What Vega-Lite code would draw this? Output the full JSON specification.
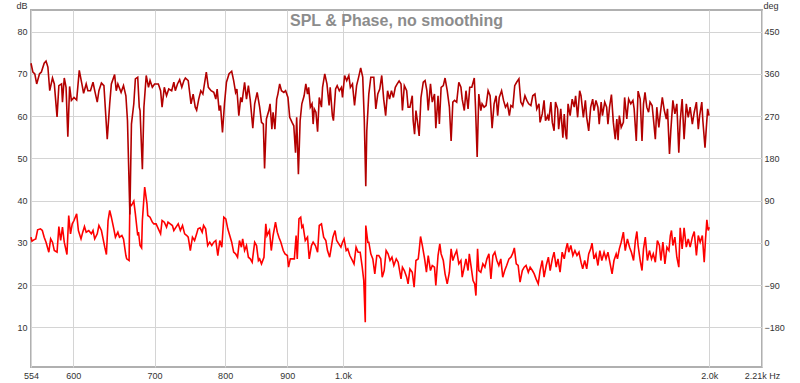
{
  "$schema": "https://vega.github.io/schema/vega-lite/v6.json",
  "width": 731,
  "height": 357,
  "autosize": {"type": "none"},
  "padding": {"left": 31, "top": 10, "right": 38, "bottom": 16},
  "background": "white",
  "title": {"text": "SPL & Phase, no smoothing", "anchor": "middle", "orient": "top", "offset": -41, "font": "Liberation Sans", "fontSize": 16, "fontWeight": "bold", "color": "#8c8c8c", "baseline": "alphabetic"},
  "config": {
    "axis": {"labelFont": "Liberation Sans", "labelFontSize": 9, "labelColor": "#333333", "titleFont": "Liberation Sans", "titleFontSize": 9, "titleFontWeight": "normal", "titleColor": "#333333", "gridColor": "#d4d4d4", "gridWidth": 1, "domain": false, "ticks": false},
    "view": {"stroke": "#b0b0b0", "strokeWidth": 2}
  },
  "layer": [
    {
      "data": {"values": [
        {"f":554,"deg":12.1},{"f":555,"deg":3.6},{"f":557,"deg":6.4},{"f":559,"deg":8.5},{"f":561,"deg":27.7},{"f":564,"deg":29.9},{"f":566,"deg":26.3},{"f":568,"deg":12.1},{"f":570,"deg":1.4},{"f":573,"deg":-19.9},{"f":575,"deg":8.5},{"f":577,"deg":1.4},{"f":579,"deg":-16.4},{"f":582,"deg":-19.9},{"f":584,"deg":34.8},{"f":586,"deg":5},{"f":588,"deg":33.4},{"f":590,"deg":1.4},{"f":593,"deg":-24.9},{"f":595,"deg":58.3},{"f":597,"deg":19.2},{"f":599,"deg":40.5},{"f":601,"deg":47.6},{"f":604,"deg":61.9},{"f":606,"deg":26.3},{"f":609,"deg":8.5},{"f":611,"deg":22.8},{"f":613,"deg":34.8},{"f":615,"deg":22.8},{"f":618,"deg":26.3},{"f":621,"deg":19.2},{"f":623,"deg":26.3},{"f":625,"deg":8.5},{"f":628,"deg":19.2},{"f":630,"deg":37},{"f":633,"deg":26.3},{"f":635,"deg":8.5},{"f":637,"deg":-9.2},{"f":639,"deg":-24.9},{"f":641,"deg":47.6},{"f":643,"deg":69},{"f":645,"deg":54.7},{"f":648,"deg":29.9},{"f":650,"deg":12.1},{"f":653,"deg":22.8},{"f":655,"deg":12.1},{"f":658,"deg":15.6},{"f":660,"deg":8.5},{"f":663,"deg":-27},{"f":664,"deg":-34.1},{"f":667,"deg":-37.7},{"f":668,"deg":83.2},{"f":670,"deg":79.6},{"f":673,"deg":88.9},{"f":675,"deg":61.9},{"f":678,"deg":15.6},{"f":679,"deg":22.8},{"f":681,"deg":-5.7},{"f":683,"deg":-10.7},{"f":684,"deg":47.6},{"f":687,"deg":118.7},{"f":690,"deg":83.2},{"f":691,"deg":58.3},{"f":694,"deg":54.7},{"f":697,"deg":44.1},{"f":699,"deg":40.5},{"f":702,"deg":40.5},{"f":705,"deg":29.9},{"f":708,"deg":19.2},{"f":710,"deg":47.6},{"f":713,"deg":44.1},{"f":716,"deg":33.4},{"f":718,"deg":44.1},{"f":721,"deg":40.5},{"f":724,"deg":37},{"f":726,"deg":26.3},{"f":729,"deg":33.4},{"f":732,"deg":40.5},{"f":735,"deg":26.3},{"f":738,"deg":37},{"f":741,"deg":19.2},{"f":744,"deg":15.6},{"f":746,"deg":12.1},{"f":749,"deg":-16.4},{"f":752,"deg":12.1},{"f":755,"deg":5},{"f":758,"deg":19.2},{"f":760,"deg":29.9},{"f":763,"deg":32},{"f":766,"deg":22.8},{"f":768,"deg":37},{"f":771,"deg":29.9},{"f":774,"deg":-5.7},{"f":777,"deg":1.4},{"f":780,"deg":-5.7},{"f":783,"deg":1.4},{"f":786,"deg":5},{"f":789,"deg":-27},{"f":792,"deg":5},{"f":795,"deg":-9.2},{"f":798,"deg":54.7},{"f":801,"deg":51.2},{"f":804,"deg":29.9},{"f":807,"deg":15.6},{"f":810,"deg":1.4},{"f":813,"deg":-19.9},{"f":816,"deg":-23.5},{"f":819,"deg":-30.6},{"f":822,"deg":5},{"f":825,"deg":-9.2},{"f":827,"deg":8.5},{"f":830,"deg":-16.4},{"f":833,"deg":-5.7},{"f":836,"deg":-30.6},{"f":839,"deg":-34.1},{"f":842,"deg":-41.2},{"f":846,"deg":1.4},{"f":849,"deg":-5.7},{"f":852,"deg":-37.7},{"f":854,"deg":-34.1},{"f":857,"deg":-44.8},{"f":861,"deg":-30.6},{"f":864,"deg":40.5},{"f":866,"deg":15.6},{"f":870,"deg":26.3},{"f":873,"deg":-16.4},{"f":876,"deg":15.6},{"f":880,"deg":44.1},{"f":883,"deg":22.8},{"f":886,"deg":10.7},{"f":889,"deg":1.4},{"f":893,"deg":-16.4},{"f":896,"deg":-23.5},{"f":900,"deg":-27},{"f":902,"deg":-51.9},{"f":905,"deg":-34.1},{"f":909,"deg":-34.1},{"f":912,"deg":-34.1},{"f":915,"deg":15.6},{"f":917,"deg":-34.1},{"f":920,"deg":51.2},{"f":923,"deg":54.7},{"f":925,"deg":33.4},{"f":927,"deg":37},{"f":931,"deg":5},{"f":935,"deg":12.1},{"f":938,"deg":-34.1},{"f":942,"deg":-5.7},{"f":945,"deg":1.4},{"f":949,"deg":-5.7},{"f":953,"deg":-19.9},{"f":956,"deg":37},{"f":960,"deg":40.5},{"f":964,"deg":12.1},{"f":968,"deg":5},{"f":971,"deg":-16.4},{"f":975,"deg":-30.6},{"f":977,"deg":-16.4},{"f":981,"deg":12.1},{"f":985,"deg":26.3},{"f":988,"deg":5},{"f":992,"deg":-2.1},{"f":996,"deg":-9.2},{"f":999,"deg":1.4},{"f":1002,"deg":8.5},{"f":1006,"deg":-16.4},{"f":1009,"deg":-12.8},{"f":1013,"deg":-27},{"f":1018,"deg":-37.7},{"f":1021,"deg":-44.8},{"f":1025,"deg":-9.2},{"f":1029,"deg":-19.9},{"f":1033,"deg":-19.9},{"f":1037,"deg":-51.9},{"f":1040,"deg":-80.3},{"f":1043,"deg":-169.2},{"f":1044,"deg":37},{"f":1048,"deg":1.4},{"f":1050,"deg":1.4},{"f":1054,"deg":-23.5},{"f":1058,"deg":-34.1},{"f":1062,"deg":-66.1},{"f":1066,"deg":-27},{"f":1070,"deg":-27},{"f":1074,"deg":-34.1},{"f":1077,"deg":-73.2},{"f":1081,"deg":-59},{"f":1085,"deg":-16.4},{"f":1089,"deg":-23.5},{"f":1093,"deg":-37.7},{"f":1097,"deg":-30.6},{"f":1101,"deg":-48.3},{"f":1106,"deg":-34.1},{"f":1110,"deg":-41.2},
        {"f":1116,"deg":-76.8},{"f":1119,"deg":-51.9},{"f":1123,"deg":-59},{"f":1128,"deg":-73.2},{"f":1131,"deg":-87.4},{"f":1135,"deg":-55.5},{"f":1140,"deg":-62.6},{"f":1144,"deg":-94.6},{"f":1148,"deg":-37.7},{"f":1153,"deg":-34.1},{"f":1155,"deg":-16.4},{"f":1158,"deg":13.5},{"f":1162,"deg":-5.7},{"f":1167,"deg":-34.1},{"f":1171,"deg":-62.6},{"f":1175,"deg":-27},{"f":1180,"deg":-59},{"f":1184,"deg":-48.3},{"f":1189,"deg":-51.9},{"f":1192,"deg":-91},{"f":1197,"deg":-27},{"f":1201,"deg":-2.1},{"f":1204,"deg":-23.5},{"f":1209,"deg":-37.7},{"f":1213,"deg":-66.1},{"f":1218,"deg":-87.4},{"f":1223,"deg":-62.6},{"f":1227,"deg":-12.8},{"f":1231,"deg":-37.7},{"f":1235,"deg":-27},{"f":1240,"deg":-16.4},{"f":1245,"deg":-44.8},{"f":1250,"deg":-37.7},{"f":1253,"deg":-73.2},{"f":1258,"deg":-51.9},{"f":1262,"deg":-34.1},{"f":1267,"deg":-59},{"f":1270,"deg":-23.5},{"f":1274,"deg":-48.3},{"f":1279,"deg":-80.3},{"f":1283,"deg":-87.4},{"f":1286,"deg":-112.3},{"f":1290,"deg":-12.8},{"f":1293,"deg":-59},{"f":1298,"deg":-62.6},{"f":1303,"deg":-44.8},{"f":1308,"deg":-51.9},{"f":1313,"deg":-34.1},{"f":1318,"deg":-23.5},{"f":1323,"deg":-76.8},{"f":1328,"deg":-27},{"f":1333,"deg":-19.9},{"f":1338,"deg":-37.7},{"f":1343,"deg":-48.3},{"f":1348,"deg":-34.1},{"f":1353,"deg":-73.2},{"f":1358,"deg":-59},{"f":1363,"deg":-48.3},{"f":1369,"deg":-34.1},{"f":1374,"deg":-30.6},{"f":1379,"deg":-22},{"f":1383,"deg":-10.7},{"f":1388,"deg":-44.8},{"f":1393,"deg":-48.3},{"f":1398,"deg":-83.9},{"f":1404,"deg":-59},{"f":1409,"deg":-51.9},{"f":1414,"deg":-48.3},{"f":1420,"deg":-62.6},{"f":1425,"deg":-51.9},{"f":1431,"deg":-59},{"f":1436,"deg":-66.1},{"f":1441,"deg":-76.8},{"f":1447,"deg":-87.4},{"f":1452,"deg":-59},{"f":1458,"deg":-37.7},{"f":1463,"deg":-73.2},{"f":1469,"deg":-48.3},{"f":1475,"deg":-30.6},{"f":1480,"deg":-59},{"f":1486,"deg":-34.1},{"f":1491,"deg":-19.9},{"f":1497,"deg":-51.9},{"f":1502,"deg":-34.1},{"f":1508,"deg":-62.6},{"f":1514,"deg":-19.9},{"f":1520,"deg":-34.1},{"f":1525,"deg":-12.8},{"f":1529,"deg":-0.7},{"f":1533,"deg":-19.9},{"f":1539,"deg":-5.7},{"f":1545,"deg":-27},{"f":1551,"deg":-16.4},{"f":1557,"deg":-27},{"f":1563,"deg":-19.9},{"f":1569,"deg":-41.2},
        {"f":1574,"deg":-55.5},{"f":1580,"deg":-37.7},{"f":1586,"deg":-55.5},{"f":1592,"deg":-23.5},{"f":1598,"deg":-12.8},{"f":1602,"deg":-0.7},{"f":1608,"deg":-34.1},{"f":1614,"deg":-23.5},{"f":1620,"deg":-48.3},{"f":1626,"deg":-16.4},{"f":1632,"deg":-37.7},{"f":1639,"deg":-19.9},{"f":1645,"deg":-34.1},{"f":1651,"deg":-19.9},{"f":1658,"deg":-44.8},{"f":1664,"deg":-66.1},{"f":1670,"deg":-37.7},{"f":1677,"deg":-23.5},{"f":1681,"deg":-34.1},{"f":1687,"deg":-12.8},{"f":1693,"deg":1.4},{"f":1700,"deg":22.8},{"f":1706,"deg":-16.4},{"f":1713,"deg":8.5},{"f":1720,"deg":-9.2},{"f":1726,"deg":-19.9},{"f":1733,"deg":-37.7},{"f":1739,"deg":5},{"f":1744,"deg":24.2},{"f":1748,"deg":-5.7},{"f":1755,"deg":-37.7},{"f":1761,"deg":-59},{"f":1766,"deg":-12.8},{"f":1772,"deg":12.1},{"f":1779,"deg":-37.7},{"f":1786,"deg":-16.4},{"f":1793,"deg":-34.1},{"f":1799,"deg":-23.5},{"f":1806,"deg":-41.2},{"f":1813,"deg":5},{"f":1820,"deg":-5.7},{"f":1825,"deg":-37.7},{"f":1832,"deg":1.4},{"f":1839,"deg":-44.8},{"f":1846,"deg":-9.2},{"f":1853,"deg":-16.4},{"f":1858,"deg":15.6},{"f":1862,"deg":26.3},{"f":1867,"deg":-5.7},{"f":1874,"deg":12.1},{"f":1881,"deg":-30.6},{"f":1888,"deg":-51.9},{"f":1893,"deg":32},{"f":1900,"deg":-12.8},{"f":1907,"deg":32},{"f":1915,"deg":-9.2},{"f":1922,"deg":8.5},{"f":1929,"deg":-9.2},{"f":1937,"deg":12.1},{"f":1944,"deg":24.2},{"f":1952,"deg":-27},{"f":1959,"deg":15.6},{"f":1966,"deg":1.4},{"f":1974,"deg":15.6},{"f":1981,"deg":-41.2},{"f":1986,"deg":8.5},{"f":1991,"deg":49},{"f":1996,"deg":26.3},{"f":2000,"deg":33.4}
      ]},
      "mark": {"type": "line", "color": "#ff0000", "strokeWidth": 1.6, "interpolate": "linear"},
      "encoding": {
        "x": {"field": "f", "type": "quantitative", "scale": {"type": "log", "domain": [554, 2210], "nice": false},
          "axis": {"values": [554, 600, 700, 800, 900, 1000, 2000, 2210], "labelExpr": "datum.value == 1000 ? '1.0k' : datum.value == 2000 ? '2.0k' : datum.value == 2210 ? '2.21k Hz' : format(datum.value, 'd')", "grid": true, "labelFlush": false, "labelOverlap": false, "labelPadding": 4, "title": null}},
        "y": {"field": "deg", "type": "quantitative", "scale": {"domain": [-264.6, 496.3], "nice": false, "zero": false},
          "axis": {"orient": "right", "values": [-180, -90, 0, 90, 180, 270, 360, 450], "grid": false, "labelPadding": 2, "title": "deg", "titleAngle": 0, "titleX": 1, "titleY": -5, "titleAlign": "left", "titleBaseline": "middle"}}
      }
    },
    {
      "data": {"values": [
        {"f":554,"db":72.5},{"f":556,"db":70.4},{"f":558,"db":70},{"f":560,"db":67.6},{"f":563,"db":70},{"f":565,"db":70.4},{"f":568,"db":72.5},{"f":570,"db":73},{"f":572,"db":71.6},{"f":574,"db":66},{"f":577,"db":69},{"f":579,"db":67.6},{"f":582,"db":59.8},{"f":584,"db":67.2},{"f":587,"db":67.6},{"f":588,"db":63.3},{"f":590,"db":69},{"f":592,"db":66.8},{"f":594,"db":55.1},{"f":596,"db":67},{"f":598,"db":63.7},{"f":601,"db":64.4},{"f":604,"db":63.8},{"f":607,"db":70.8},{"f":610,"db":67.6},{"f":612,"db":65.4},{"f":615,"db":67.6},{"f":617,"db":66},{"f":620,"db":66},{"f":623,"db":68},{"f":625,"db":66},{"f":628,"db":63.3},{"f":630,"db":66},{"f":633,"db":67.8},{"f":636,"db":67.2},{"f":640,"db":54.5},{"f":643,"db":62.9},{"f":645,"db":67.6},{"f":649,"db":69.8},{"f":651,"db":66},{"f":653,"db":67.6},{"f":657,"db":65.6},{"f":660,"db":67.2},{"f":663,"db":64.8},{"f":665,"db":58.9},{"f":668,"db":36.7},{"f":670,"db":58.1},{"f":673,"db":62.9},{"f":675,"db":68.8},{"f":678,"db":69.2},{"f":680,"db":62.1},{"f":681,"db":61.3},{"f":684,"db":47.4},{"f":686,"db":62.1},{"f":689,"db":69.6},{"f":692,"db":66.8},{"f":694,"db":68.4},{"f":697,"db":66.8},{"f":700,"db":67.6},{"f":705,"db":67.6},{"f":708,"db":66},{"f":710,"db":62.1},{"f":713,"db":66.8},{"f":716,"db":64.8},{"f":719,"db":66.4},{"f":723,"db":66},{"f":726,"db":68},{"f":728,"db":66},{"f":731,"db":67.6},{"f":734,"db":68.6},{"f":737,"db":66.8},{"f":740,"db":68.4},{"f":742,"db":69},{"f":746,"db":68.4},{"f":750,"db":62.9},{"f":753,"db":65.2},{"f":756,"db":62.1},{"f":758,"db":61.4},{"f":761,"db":64},{"f":764,"db":66},{"f":767,"db":65.2},{"f":772,"db":70.4},{"f":775,"db":66.8},{"f":779,"db":66},
        {"f":783,"db":65.6},{"f":786,"db":64},{"f":788,"db":66.4},{"f":791,"db":61.3},{"f":793,"db":62.5},{"f":796,"db":56.1},{"f":799,"db":62.9},{"f":802,"db":68},{"f":806,"db":70},{"f":810,"db":70.6},{"f":813,"db":68.4},{"f":816,"db":65.6},{"f":818,"db":66.4},{"f":821,"db":60.1},{"f":824,"db":64.4},{"f":826,"db":63.3},{"f":830,"db":68},{"f":833,"db":64},{"f":836,"db":67.2},{"f":839,"db":63.7},{"f":843,"db":57.1},{"f":846,"db":62.9},{"f":850,"db":65.6},{"f":854,"db":62.1},{"f":857,"db":58.5},{"f":860,"db":58.1},{"f":862,"db":47.6},{"f":865,"db":59.3},{"f":869,"db":61.3},{"f":871,"db":62.9},{"f":874,"db":56.9},{"f":876,"db":60.9},{"f":879,"db":56.9},{"f":882,"db":64},{"f":884,"db":65.2},{"f":887,"db":67.6},{"f":890,"db":66},{"f":894,"db":65.6},{"f":897,"db":66},{"f":901,"db":64.4},{"f":904,"db":59.7},{"f":908,"db":58.5},{"f":911,"db":57.7},{"f":914,"db":51.3},{"f":916,"db":59.7},{"f":919,"db":46.2},{"f":922,"db":58.9},{"f":925,"db":62.9},{"f":929,"db":64.8},{"f":932,"db":67.6},{"f":935,"db":65.2},{"f":937,"db":66.8},{"f":940,"db":62.1},{"f":943,"db":62.9},{"f":945,"db":58.1},{"f":947,"db":61.7},{"f":950,"db":60.9},{"f":953,"db":56.3},{"f":956,"db":64.4},{"f":960,"db":62.1},{"f":962,"db":66.8},{"f":966,"db":70},{"f":970,"db":67.6},{"f":974,"db":62.5},{"f":976,"db":66.8},{"f":980,"db":60.1},{"f":982,"db":58.9},{"f":986,"db":66.4},{"f":989,"db":67.2},{"f":993,"db":66},{"f":997,"db":66.8},{"f":999,"db":64.4},{"f":1003,"db":69.6},{"f":1007,"db":68.4},{"f":1011,"db":69.6},{"f":1014,"db":66.8},{"f":1018,"db":67.6},{"f":1022,"db":62.5},{"f":1026,"db":67.2},{"f":1030,"db":69.2},{"f":1034,"db":71.4},{"f":1038,"db":69.2},{"f":1041,"db":59.3},{"f":1044,"db":43.4},{"f":1046,"db":56.5},{"f":1050,"db":65.2},{"f":1054,"db":69.2},{"f":1060,"db":69.2},{"f":1064,"db":61.7},{"f":1068,"db":65.2},{"f":1072,"db":66.4},{"f":1076,"db":69.6},{"f":1080,"db":64},{"f":1084,"db":60.1},{"f":1088,"db":66},{"f":1092,"db":64},{"f":1096,"db":66},{"f":1100,"db":64.4},{"f":1104,"db":66.8},{"f":1108,"db":67.6},
        {"f":1112,"db":68.3},{"f":1116,"db":67.6},{"f":1119,"db":61.3},{"f":1123,"db":67.2},{"f":1128,"db":66},{"f":1131,"db":62.1},{"f":1135,"db":62.1},{"f":1140,"db":64.8},{"f":1142,"db":58.9},{"f":1145,"db":55.7},{"f":1148,"db":61.3},{"f":1151,"db":58.9},{"f":1155,"db":55.3},{"f":1159,"db":64.4},{"f":1164,"db":68},{"f":1168,"db":68.4},{"f":1172,"db":66},{"f":1175,"db":61.3},{"f":1180,"db":67.6},{"f":1184,"db":63.3},{"f":1189,"db":65.2},{"f":1192,"db":57.1},{"f":1197,"db":64.8},{"f":1200,"db":58.1},{"f":1204,"db":66.8},{"f":1209,"db":67.2},{"f":1213,"db":69},{"f":1218,"db":66},{"f":1223,"db":62.1},{"f":1227,"db":54.1},{"f":1231,"db":63.3},{"f":1235,"db":63.7},{"f":1240,"db":63.3},{"f":1245,"db":68},{"f":1250,"db":66.8},{"f":1253,"db":64},{"f":1258,"db":61.3},{"f":1262,"db":66},{"f":1267,"db":61.7},{"f":1271,"db":66.8},{"f":1276,"db":66.8},{"f":1282,"db":69},{"f":1285,"db":62.1},{"f":1289,"db":50.3},{"f":1293,"db":65.2},{"f":1298,"db":61.3},{"f":1301,"db":62.9},{"f":1306,"db":62.1},{"f":1311,"db":62.5},{"f":1316,"db":66},{"f":1321,"db":64.8},{"f":1326,"db":57.1},{"f":1331,"db":62.9},{"f":1336,"db":64.8},{"f":1340,"db":60.1},{"f":1344,"db":64.4},{"f":1350,"db":66},{"f":1355,"db":63.7},{"f":1360,"db":62.1},{"f":1365,"db":62.9},{"f":1370,"db":60.1},{"f":1374,"db":62.5},{"f":1379,"db":62.1},{"f":1384,"db":67.2},{"f":1389,"db":68},{"f":1395,"db":68.8},{"f":1400,"db":63.3},{"f":1405,"db":62.5},{"f":1411,"db":64.8},{"f":1416,"db":63.7},{"f":1421,"db":62.9},{"f":1427,"db":62.5},{"f":1432,"db":64.8},{"f":1438,"db":65.2},{"f":1443,"db":61.7},{"f":1449,"db":62.9},{"f":1452,"db":58.5},{"f":1458,"db":60.5},{"f":1463,"db":63.7},{"f":1467,"db":58.9},{"f":1473,"db":60.1},{"f":1476,"db":58.9},{"f":1482,"db":63.3},{"f":1486,"db":58.5},{"f":1491,"db":56.5},{"f":1495,"db":63.3},{"f":1501,"db":61.7},{"f":1504,"db":56.9},{"f":1510,"db":61.7},{"f":1516,"db":54.9},{"f":1520,"db":60.5},{"f":1524,"db":55.7},{"f":1527,"db":54.5},{"f":1531,"db":62.9},{"f":1537,"db":60.1},{"f":1543,"db":64},{"f":1549,"db":62.1},{"f":1553,"db":64.8},{"f":1559,"db":59.7},{"f":1565,"db":66},{"f":1569,"db":64.8},
        {"f":1576,"db":59.7},{"f":1582,"db":63.7},{"f":1586,"db":59.7},{"f":1592,"db":56.5},{"f":1598,"db":62.1},{"f":1604,"db":64},{"f":1608,"db":61.3},{"f":1614,"db":63.7},{"f":1620,"db":62.1},{"f":1624,"db":58.1},{"f":1630,"db":63.3},{"f":1634,"db":60.1},{"f":1641,"db":63.3},{"f":1647,"db":62.1},{"f":1651,"db":58.1},{"f":1656,"db":62.1},{"f":1662,"db":65.1},{"f":1668,"db":58.5},{"f":1674,"db":54.5},{"f":1679,"db":59.3},{"f":1683,"db":54.3},{"f":1687,"db":60.1},{"f":1693,"db":57.3},{"f":1700,"db":58.5},{"f":1704,"db":64.4},{"f":1711,"db":59.3},{"f":1717,"db":64},{"f":1724,"db":62.9},{"f":1731,"db":63.7},{"f":1735,"db":61.7},{"f":1742,"db":54.1},{"f":1748,"db":65.9},{"f":1755,"db":64},{"f":1761,"db":54.1},{"f":1766,"db":62.9},{"f":1771,"db":65.6},{"f":1777,"db":62.1},{"f":1783,"db":60.9},{"f":1788,"db":63.3},{"f":1795,"db":62.5},{"f":1799,"db":59.7},{"f":1806,"db":54.5},{"f":1811,"db":62.1},{"f":1818,"db":57.3},{"f":1823,"db":60.5},{"f":1830,"db":64.4},{"f":1837,"db":61.3},{"f":1844,"db":59.3},{"f":1848,"db":61.7},{"f":1855,"db":51},{"f":1860,"db":56.9},{"f":1867,"db":63.7},{"f":1874,"db":60.5},{"f":1881,"db":62.9},{"f":1888,"db":51.3},{"f":1893,"db":58.9},{"f":1900,"db":64},{"f":1907,"db":54.5},{"f":1915,"db":62.9},{"f":1922,"db":59.7},{"f":1929,"db":62.1},{"f":1937,"db":58.1},{"f":1944,"db":60.9},{"f":1952,"db":63.3},{"f":1959,"db":56.9},{"f":1964,"db":60.1},{"f":1972,"db":63.3},{"f":1976,"db":58.9},{"f":1984,"db":52.5},{"f":1989,"db":57.3},{"f":1994,"db":61.7},{"f":1999,"db":60.1}
      ]},
      "mark": {"type": "line", "color": "#b30000", "strokeWidth": 1.6, "interpolate": "linear"},
      "encoding": {
        "x": {"field": "f", "type": "quantitative", "scale": {"type": "log", "domain": [554, 2210], "nice": false},
          "axis": {"values": [554, 600, 700, 800, 900, 1000, 2000, 2210], "labelExpr": "datum.value == 1000 ? '1.0k' : datum.value == 2000 ? '2.0k' : datum.value == 2210 ? '2.21k Hz' : format(datum.value, 'd')", "grid": true, "labelFlush": false, "labelOverlap": false, "labelPadding": 4, "title": null}},
        "y": {"field": "db", "type": "quantitative", "scale": {"domain": [0.6, 85.1], "nice": false, "zero": false},
          "axis": {"orient": "left", "values": [10, 20, 30, 40, 50, 60, 70, 80], "grid": true, "labelPadding": 4, "title": "dB", "titleAngle": 0, "titleX": -4, "titleY": -5, "titleAlign": "right", "titleBaseline": "middle"}}
      }
    }
  ],
  "resolve": {"scale": {"y": "independent"}, "axis": {"y": "independent"}}
}
